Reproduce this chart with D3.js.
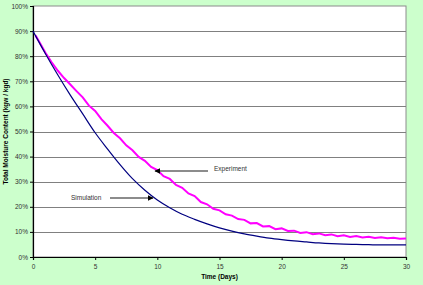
<!DOCTYPE html>
<html>
<head>
<meta charset="utf-8">
<script src="https://cdn.jsdelivr.net/npm/d3@7"></script>
<style>
  body { margin: 0; background: #ccffcc; }
  text { font-family: "Liberation Sans", Arial, sans-serif; }
</style>
</head>
<body>
<script>
var simDays = [0, 1, 2, 3, 4, 5, 6, 7, 8, 9, 10, 11, 12, 13, 14, 15, 16, 17, 18, 19, 20, 21, 22, 23, 24, 25, 26, 27, 28, 29, 30];
var simValues = [90, 81, 72.5, 64.5, 57, 49.5, 43, 36.8, 31.2, 26.6, 22.7, 19.6, 17, 15, 13.2, 11.6, 10.3, 9.2, 8.3, 7.5, 6.9, 6.4, 6, 5.6, 5.3, 5.1, 5, 4.9, 4.8, 4.8, 4.8];

var expDays = [0.2, 0.5, 1, 1.5, 2, 2.5, 3, 3.5, 4, 4.5, 5, 5.5, 6, 6.5, 7, 7.5, 8, 8.5, 9, 9.5, 10, 10.5, 11, 11.5, 12, 12.5, 13, 13.5, 14, 14.5, 15, 15.5, 16, 16.5, 17, 17.5, 18, 18.5, 19, 19.5, 20, 20.5, 21, 21.5, 22, 22.5, 23, 23.5, 24, 24.5, 25, 25.5, 26, 26.5, 27, 27.5, 28, 28.5, 29, 29.5, 30];
var expValues = [88.3, 85.8, 81.4, 77.6, 74.2, 71.3, 68.7, 66.1, 63.6, 60.3, 58.2, 54.9, 52.3, 49.4, 47.3, 44.5, 42.5, 39.9, 38.3, 35.9, 34.6, 32.2, 31.1, 28.7, 27.6, 25.3, 24.3, 21.9, 21, 19.2, 18.6, 17, 16.5, 15.1, 14.8, 13.4, 13.5, 12.2, 12.3, 11.1, 11.4, 10.4, 10.5, 9.6, 9.9, 9.1, 9.4, 8.7, 9, 8.3, 8.7, 8, 8.4, 7.8, 8.1, 7.6, 7.9, 7.5, 7.7, 7.3, 7.4];

var xTicks = [0, 5, 10, 15, 20, 25, 30];
var yTicks = [0, 10, 20, 30, 40, 50, 60, 70, 80, 90, 100];

var width = 423, height = 285;
var plotLeft = 33, plotRight = 406, plotTop = 6, plotBottom = 257;

var svg = d3.select("body")
    .append("svg")
    .attr("width", width)
    .attr("height", height)
    .style("display", "block")
    .style("background", "#ccffcc");

var x = d3.scaleLinear().domain([0, 30]).range([plotLeft, plotRight]);
var y = d3.scaleLinear().domain([0, 100]).range([plotBottom, plotTop]);

// plot area
svg.append("rect")
    .attr("x", plotLeft).attr("y", plotTop)
    .attr("width", plotRight - plotLeft).attr("height", plotBottom - plotTop)
    .attr("fill", "#ffffff")
    .attr("stroke", "#8c8c8c")
    .attr("stroke-width", 1);

// gridlines
svg.selectAll(".grid")
    .data(yTicks.slice(1, -1))
    .enter()
    .append("line")
    .attr("class", "grid")
    .attr("x1", plotLeft).attr("x2", plotRight)
    .attr("y1", function(d) { return Math.round(y(d)) + 0.5; })
    .attr("y2", function(d) { return Math.round(y(d)) + 0.5; })
    .attr("stroke", "#808080")
    .attr("stroke-width", 1);

// axes
var yAxis = svg.append("g")
    .attr("transform", "translate(" + plotLeft + ",0)")
    .call(d3.axisLeft(y).tickValues(yTicks).tickSize(3).tickPadding(2)
        .tickFormat(function(d) { return d + "%"; }));
var xAxis = svg.append("g")
    .attr("transform", "translate(0," + plotBottom + ")")
    .call(d3.axisBottom(x).tickValues(xTicks).tickSize(3).tickPadding(4));

[yAxis, xAxis].forEach(function(a) {
    a.select(".domain").attr("stroke", "#000").attr("stroke-width", 1.2);
    a.selectAll(".tick line").attr("stroke", "#000");
    a.selectAll("text").attr("fill", "#333").style("font-size", "6.5px");
});

// series
var line = d3.line()
    .x(function(d) { return x(d[0]); })
    .y(function(d) { return y(d[1]); });

svg.append("path")
    .datum(d3.zip(expDays, expValues))
    .attr("d", line)
    .attr("fill", "none")
    .attr("stroke", "#ff00ff")
    .attr("stroke-width", 2);

svg.append("path")
    .datum(d3.zip(simDays, simValues))
    .attr("d", line.curve(d3.curveMonotoneX))
    .attr("fill", "none")
    .attr("stroke", "#000080")
    .attr("stroke-width", 1.2);

// annotations
var defs = svg.append("defs");
defs.append("marker")
    .attr("id", "head")
    .attr("viewBox", "0 0 10 10")
    .attr("refX", 9).attr("refY", 5)
    .attr("markerWidth", 4).attr("markerHeight", 4)
    .attr("orient", "auto")
    .append("path")
    .attr("d", "M0,0L10,5L0,10z")
    .attr("fill", "#000");

svg.append("line")
    .attr("x1", 208).attr("y1", 171).attr("x2", 155).attr("y2", 171)
    .attr("stroke", "#666").attr("stroke-width", 1.5)
    .attr("marker-end", "url(#head)");
svg.append("text")
    .attr("x", 214).attr("y", 171)
    .attr("fill", "#333").style("font-size", "6.5px")
    .text("Experiment");

svg.append("line")
    .attr("x1", 110).attr("y1", 198).attr("x2", 153).attr("y2", 198)
    .attr("stroke", "#666").attr("stroke-width", 1.5)
    .attr("marker-end", "url(#head)");
svg.append("text")
    .attr("x", 71).attr("y", 200)
    .attr("fill", "#333").style("font-size", "6.5px")
    .text("Simulation");

// axis titles
svg.append("text")
    .attr("x", (plotLeft + plotRight) / 2).attr("y", 279)
    .attr("text-anchor", "middle")
    .style("font-size", "6.5px").style("font-weight", "bold")
    .text("Time (Days)");

svg.append("text")
    .attr("transform", "translate(8," + (plotTop + plotBottom) / 2 + ") rotate(-90)")
    .attr("text-anchor", "middle")
    .style("font-size", "6.5px").style("font-weight", "bold")
    .text("Total Moisture Content (kgw / kgd)");
</script>
</body>
</html>
